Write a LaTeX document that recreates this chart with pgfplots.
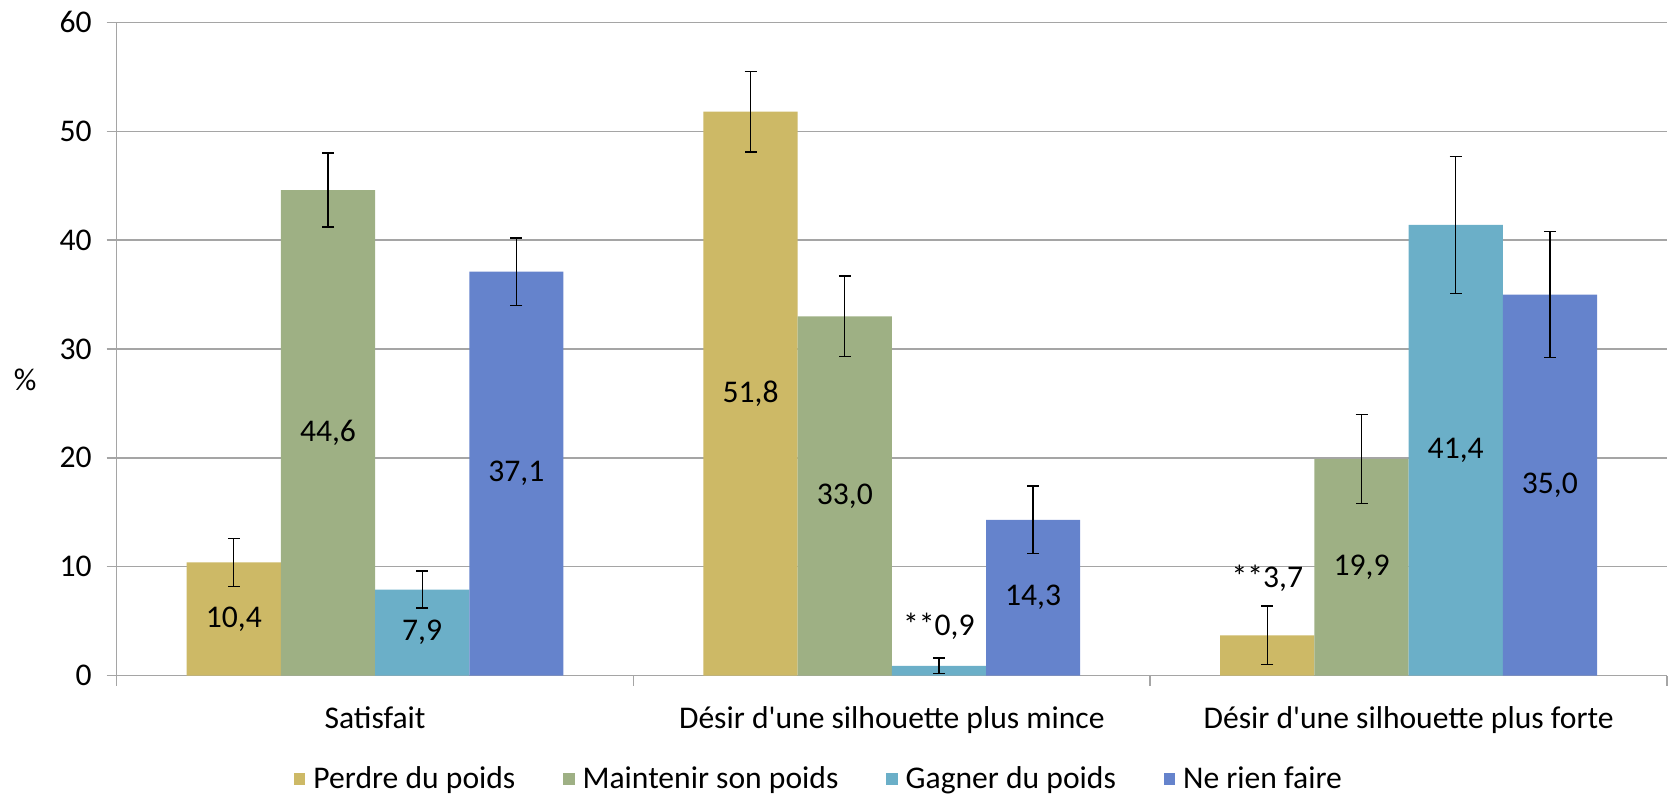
\documentclass[border=0pt]{standalone}
\usepackage{pgfplots}
\pgfplotsset{compat=1.18}
\usepackage{pgfplotstable}
\usepackage{fontspec}
\setmainfont{Carlito}

\newcommand\fs{\fontsize{15.8}{19}\selectfont}

\definecolor{cperdre}{RGB}{205,185,102}
\definecolor{cmaint}{RGB}{158,176,132}
\definecolor{cgagner}{RGB}{107,175,200}
\definecolor{crien}{RGB}{101,131,204}
\definecolor{gridc}{RGB}{165,165,165}

\pgfplotsset{
  sq/.style={legend image code/.code={\fill[##1] (0pt,-2.8pt) rectangle (5.6pt,2.8pt);}},
  ebar/.style={error bars/.cd, y dir=both, y explicit,
    error bar style={black, line width=0.65pt},
    error mark options={black, rotate=90, mark size=3pt, line width=0.65pt}},
}

% valeurs et demi-intervalles, une colonne x par serie
\pgfplotstableread{
xp perdre eperdre xm maint emaint xg gagner egagner xr rien erien
-0.2734 10.4 2.2 -0.0911 44.6 3.4 0.0911 7.9 1.7 0.2734 37.1 3.1
0.7266 51.8 3.7 0.9089 33.0 3.7 1.0911 0.9 0.7 1.2734 14.3 3.1
1.7266 3.7 2.7 1.9089 19.9 4.1 2.0911 41.4 6.3 2.2734 35.0 5.8
}\data

% etiquettes des barres
\pgfplotstableread{
x y lab
-0.2734 5.2 10,4
-0.0911 22.3 44,6
0.0911 3.95 7,9
0.2734 18.55 37,1
0.7266 25.9 51,8
0.9089 16.5 33,0
1.0911 4.5 **0,9
1.2734 7.15 14,3
1.7266 8.9 **3,7
1.9089 9.95 19,9
2.0911 20.7 41,4
2.2734 17.5 35,0
}\labels

\begin{document}
\begin{tikzpicture}
\begin{axis}[
  scale only axis, width=775.2pt, height=326.6pt,
  xmin=-0.5, xmax=2.5, ymin=0, ymax=60,
  ytick={0,10,...,60},
  xtick={-0.5,0.5,1.5,2.5}, xticklabels={},
  extra x ticks={0,1,2},
  extra x tick labels={Satisfait, D\'esir d\textquotesingle une silhouette plus mince, D\'esir d\textquotesingle une silhouette plus forte},
  extra x tick style={major tick length=0pt, grid=none, xticklabel style={yshift=-12pt}},
  tick align=outside, major tick length=5pt,
  tick style={gridc, line width=0.75pt},
  axis x line*=bottom, axis y line*=left,
  axis line style={gridc, line width=0.75pt, -},
  ymajorgrids, grid style={gridc, line width=0.75pt},
  ticklabel style={font=\fs, text=black},
  yticklabel style={xshift=-4pt},
  /pgf/number format/assume math mode=true,
  ylabel={\%},
  every axis y label/.style={at={(rel axis cs:0,0.453)}, anchor=center, xshift=-45.8pt, font=\fs},
  legend style={at={(rel axis cs:0.4537,0)}, anchor=center, yshift=-51.7pt,
    draw=none, font=\fs, legend columns=4,
    /tikz/every even column/.append style={column sep=22pt},
    /tikz/every odd column/.append style={column sep=2pt}},
]
\addplot[ybar, sq, bar width=0.1823, bar shift=0pt, fill=cperdre, draw=none, ebar]
  table[x=xp, y=perdre, y error=eperdre] {\data};
\addplot[ybar, sq, bar width=0.1823, bar shift=0pt, fill=cmaint, draw=none, ebar]
  table[x=xm, y=maint, y error=emaint] {\data};
\addplot[ybar, sq, bar width=0.1823, bar shift=0pt, fill=cgagner, draw=none, ebar]
  table[x=xg, y=gagner, y error=egagner] {\data};
\addplot[ybar, sq, bar width=0.1823, bar shift=0pt, fill=crien, draw=none, ebar]
  table[x=xr, y=rien, y error=erien] {\data};

\addplot[forget plot, only marks, mark=none, nodes near coords, point meta=explicit symbolic,
  every node near coord/.append style={anchor=center, font=\fs, text=black}]
  table[x=x, y=y, meta=lab] {\labels};

\legend{Perdre du poids, Maintenir son poids, Gagner du poids, Ne rien faire}

\coordinate (bl) at (rel axis cs:0,0);
\coordinate (tr) at (rel axis cs:1,1);
\end{axis}
\pgfresetboundingbox
\path ([shift={(-58.35pt,-59.7pt)}]bl) rectangle ([shift={(2pt,11.2pt)}]tr);
\end{tikzpicture}
\end{document}
